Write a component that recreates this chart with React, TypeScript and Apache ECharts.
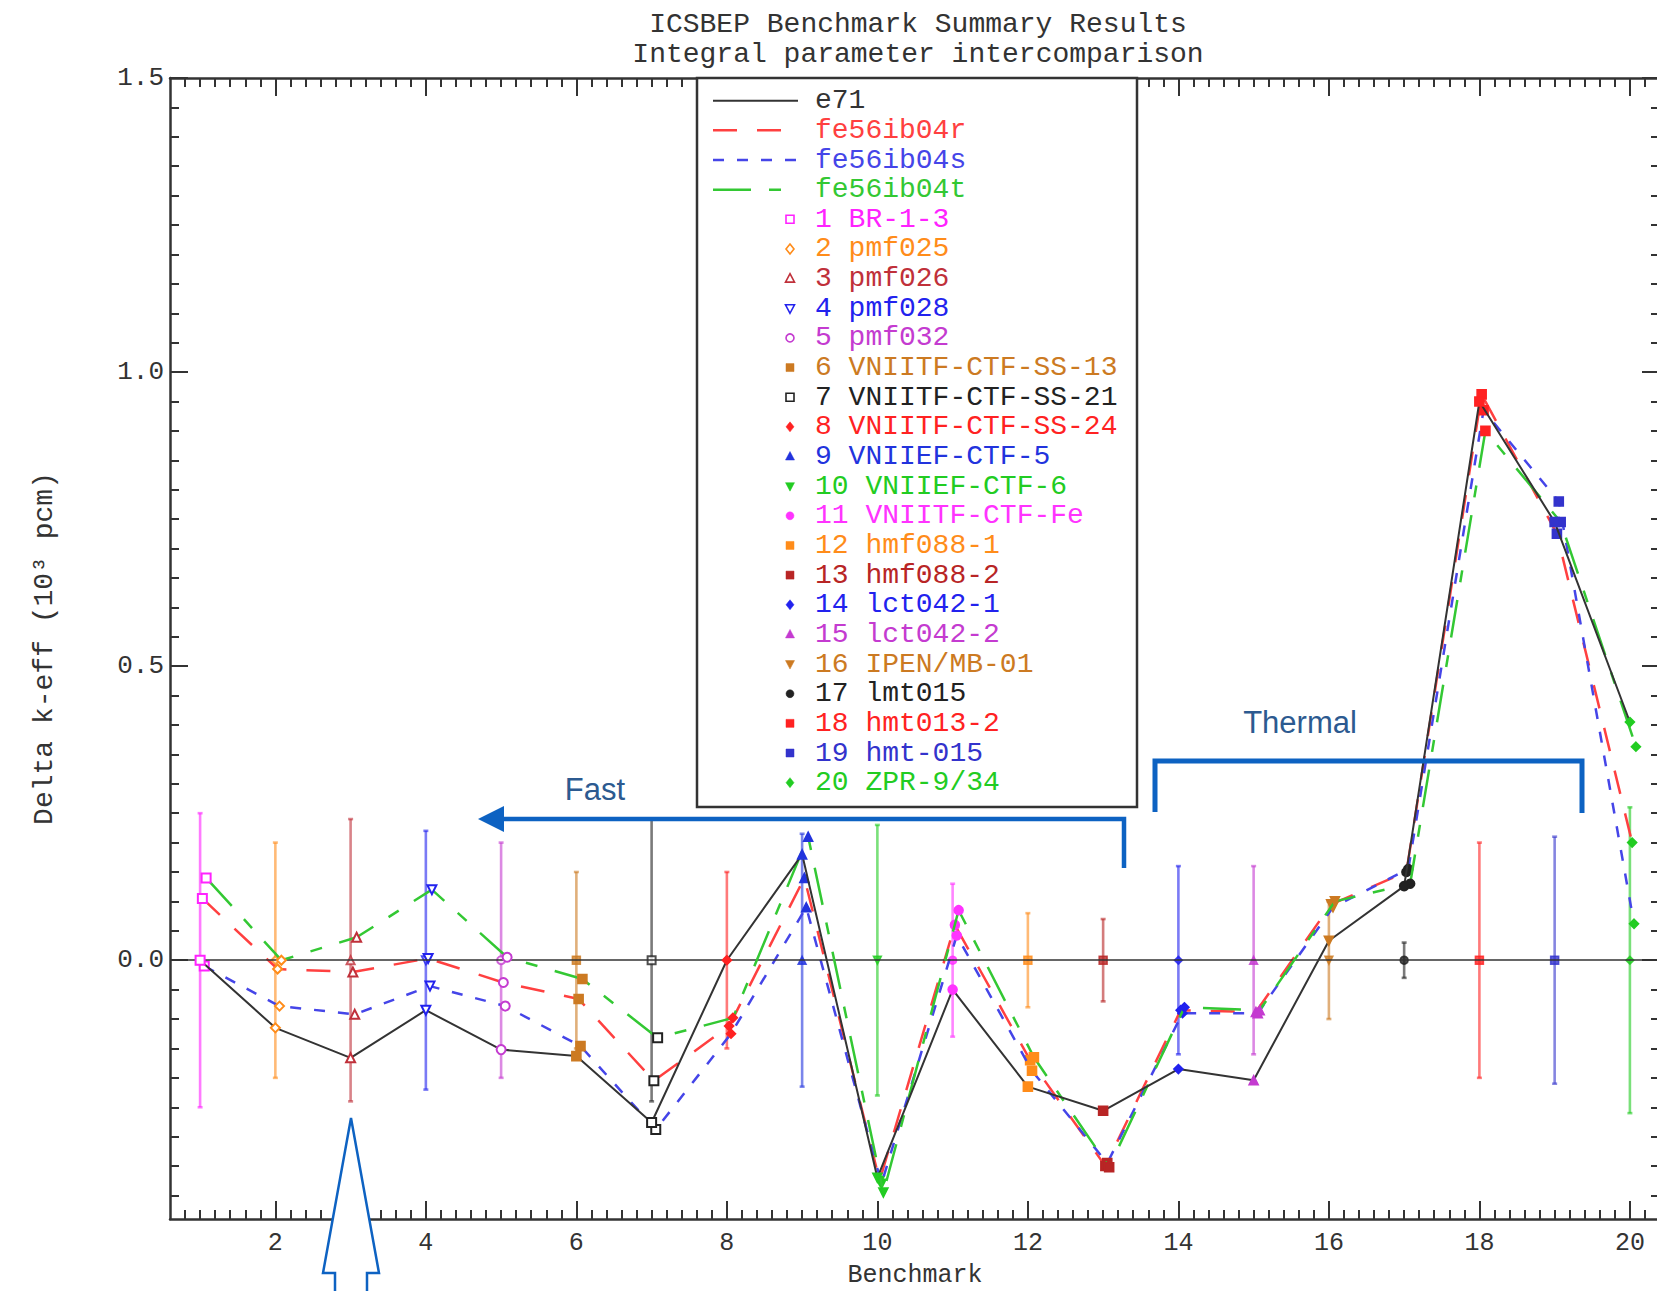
import React, { useEffect, useRef } from "react";
import * as echarts from "echarts";

// ---------------- data ----------------
const BENCHMARKS = [1, 2, 3, 4, 5, 6, 7, 8, 9, 10, 11, 12, 13, 14, 15, 16, 17, 18, 19, 20];
const BENCH_NAMES = [
  "BR-1-3", "pmf025", "pmf026", "pmf028", "pmf032",
  "VNIITF-CTF-SS-13", "VNIITF-CTF-SS-21", "VNIITF-CTF-SS-24", "VNIIEF-CTF-5", "VNIIEF-CTF-6",
  "VNIITF-CTF-Fe", "hmf088-1", "hmf088-2", "lct042-1", "lct042-2",
  "IPEN/MB-01", "lmt015", "hmt013-2", "hmt-015", "ZPR-9/34",
];
// experimental uncertainty (10^3 pcm), bars centred on 0
const BENCH_UNC = [0.25, 0.2, 0.24, 0.22, 0.2, 0.15, 0.24, 0.15, 0.215, 0.23, 0.13, 0.08, 0.07, 0.16, 0.16, 0.1, 0.03, 0.2, 0.21, 0.26];

const MODEL_NAMES = ["e71", "fe56ib04r", "fe56ib04s", "fe56ib04t"];
const E71 = [0.0, -0.115, -0.166, -0.085, -0.152, -0.163, -0.276, 0.0, 0.18, -0.37, -0.05, -0.215, -0.256, -0.185, -0.204, 0.033, 0.126, 0.95, 0.745, 0.405];
const FE56_R = [0.105, -0.015, -0.02, 0.003, -0.038, -0.066, -0.205, -0.112, 0.14, -0.375, 0.06, -0.17, -0.35, -0.085, -0.088, 0.095, 0.15, 0.962, 0.725, 0.2];
const FE56_S = [-0.01, -0.078, -0.092, -0.044, -0.078, -0.146, -0.288, -0.125, 0.09, -0.38, 0.042, -0.188, -0.345, -0.09, -0.09, 0.09, 0.155, 0.935, 0.78, 0.062];
const FE56_T = [0.14, 0.0, 0.039, 0.12, 0.005, -0.032, -0.132, -0.098, 0.21, -0.395, 0.085, -0.165, -0.352, -0.08, -0.085, 0.1, 0.13, 0.9, 0.745, 0.363];
const MODEL_VALUES = [E71, FE56_R, FE56_S, FE56_T];

const X_TICKS = [2, 4, 6, 8, 10, 12, 14, 16, 18, 20];
const Y_TICKS = [0, 0.5, 1.0, 1.5];

const TITLE_LINES = ["ICSBEP Benchmark Summary Results", "Integral parameter intercomparison"];
const X_NAME = "Benchmark";
const Y_NAME = "Delta k-eff (10³ pcm)";
const NOTE_FAST = "Fast";
const NOTE_THERMAL = "Thermal";

// ---------------- style ----------------
const BENCH_COLORS = [
  "#ff22ff", "#ff8c1a", "#c0303a", "#2222ee", "#c43bd0",
  "#cc7a22", "#222222", "#ff2222", "#2233dd", "#22cc22",
  "#ff33ff", "#ff8c1a", "#b82525", "#2222ee", "#c43bd0",
  "#cc7a22", "#222222", "#ff2222", "#3333cc", "#22cc22",
];
// [shape, empty, pointing down]
const BENCH_SYMBOLS: [string, boolean, boolean][] = [
  ["rect", true, false], ["diamond", true, false], ["triangle", true, false], ["triangle", true, true], ["circle", true, false],
  ["rect", false, false], ["rect", true, false], ["diamond", false, false], ["triangle", false, false], ["triangle", false, true],
  ["circle", false, false], ["rect", false, false], ["rect", false, false], ["diamond", false, false], ["triangle", false, false],
  ["triangle", false, true], ["circle", false, false], ["rect", false, false], ["rect", false, false], ["diamond", false, false],
];
const MODEL_STYLES = [
  { color: "#333333", width: 2, dash: "solid" as any },
  { color: "#ff4040", width: 2.5, dash: [24, 20] },
  { color: "#4545e8", width: 2.5, dash: [11, 13] },
  { color: "#33c833", width: 2.5, dash: [38, 18, 12, 18] },
];
const MODEL_X_SHIFT = [0, 0.03, 0.055, 0.08];
const MODEL_Z = [6, 3, 4, 5];

const MONO = "Liberation Mono";
const AX = "#333333";
const NOTE_BLUE = "#0d62c2";
const NOTE_TEXT = "#2c5a90";

function symbolOf(i: number) {
  const [shape, empty, down] = BENCH_SYMBOLS[i];
  return {
    symbol: (empty ? "empty" + shape.charAt(0).toUpperCase() + shape.slice(1) : shape),
    symbolRotate: down ? 180 : 0,
  };
}

function legendMarker(i: number, cx: number, cy: number) {
  const [shape, empty, down] = BENCH_SYMBOLS[i];
  const color = BENCH_COLORS[i];
  const style = empty
    ? { fill: "#ffffff", stroke: color, lineWidth: 1.6 }
    : { fill: color, stroke: color, lineWidth: 0.5 };
  const s = 4;
  if (shape === "rect") return { type: "rect", z: 101, shape: { x: cx - s, y: cy - s, width: 2 * s, height: 2 * s }, style };
  if (shape === "circle") return { type: "circle", z: 101, shape: { cx, cy, r: s }, style };
  if (shape === "diamond")
    return { type: "polygon", z: 101, shape: { points: [[cx, cy - 5], [cx + 4, cy], [cx, cy + 5], [cx - 4, cy]] }, style };
  const d = down ? -1 : 1;
  return {
    type: "polygon", z: 101,
    shape: { points: [[cx, cy - 5 * d], [cx + 4.5, cy + 3.5 * d], [cx - 4.5, cy + 3.5 * d]] },
    style,
  };
}

export default function App() {
  const ref = useRef<HTMLDivElement>(null);

  useEffect(() => {
    document.body.style.margin = "0";
    document.body.style.overflow = "hidden";
    if (!ref.current) return;
    const chart = echarts.init(ref.current, undefined, { renderer: "svg" });

    const xMinor: number[] = [];
    for (let k = 4; k <= 102; k++) xMinor.push(Math.round(k * 2) / 10);
    const yMinor: number[] = [];
    for (let k = -8; k <= 30; k++) yMinor.push(Math.round(k * 5) / 100);

    const xMin = 0.6, xMax = 20.4, yMin = -0.44, yMax = 1.5;

    const mkX = (pos: "bottom" | "top", major: boolean, labels: boolean) => ({
      type: "value",
      position: pos,
      min: xMin,
      max: xMax,
      axisLine: { show: major, onZero: false, lineStyle: { color: AX, width: 2.5 } },
      axisTick: {
        show: true, inside: true, length: major ? 18 : 9,
        customValues: major ? X_TICKS : xMinor,
        lineStyle: { color: AX, width: 2 },
      },
      axisLabel: {
        show: labels, customValues: major ? X_TICKS : xMinor,
        fontFamily: MONO, fontSize: 25, color: AX, margin: 12,
      },
      splitLine: { show: false },
      ...(labels
        ? { name: X_NAME, nameLocation: "middle", nameGap: 44, nameTextStyle: { fontFamily: MONO, fontSize: 25, color: AX } }
        : {}),
    });
    const mkY = (pos: "left" | "right", major: boolean, labels: boolean) => ({
      type: "value",
      position: pos,
      min: yMin,
      max: yMax,
      axisLine: { show: major, onZero: false, lineStyle: { color: AX, width: 2.5 } },
      axisTick: {
        show: true, inside: true, length: major ? 18 : 9,
        customValues: major ? Y_TICKS : yMinor,
        lineStyle: { color: AX, width: 2 },
      },
      axisLabel: {
        show: labels, customValues: major ? Y_TICKS : yMinor,
        fontFamily: MONO, fontSize: 26, color: AX, margin: 6,
        formatter: (v: number) => v.toFixed(1),
      },
      splitLine: { show: false },
      ...(labels
        ? { name: Y_NAME, nameLocation: "middle", nameGap: 112, nameRotate: 90, nameTextStyle: { fontFamily: MONO, fontSize: 28, color: AX } }
        : {}),
    });

    const errorSeries = {
      type: "custom",
      name: "benchmark uncertainty",
      xAxisIndex: 0,
      yAxisIndex: 0,
      z: 1,
      data: BENCHMARKS.map((b, i) => [b, BENCH_UNC[i]]),
      encode: { x: 0, y: 1 },
      renderItem: (params: any, api: any) => {
        const x = api.value(0);
        const u = api.value(1);
        const p1 = api.coord([x, u]);
        const p2 = api.coord([x, -u]);
        const style = { stroke: BENCH_COLORS[params.dataIndex], lineWidth: 2.6, opacity: 0.6 };
        const cap = 2.5;
        return {
          type: "group",
          children: [
            { type: "line", shape: { x1: p1[0], y1: p1[1], x2: p2[0], y2: p2[1] }, style },
            { type: "line", shape: { x1: p1[0] - cap, y1: p1[1], x2: p1[0] + cap, y2: p1[1] }, style },
            { type: "line", shape: { x1: p2[0] - cap, y1: p2[1], x2: p2[0] + cap, y2: p2[1] }, style },
          ],
        };
      },
    };

    const benchMarkers = {
      type: "scatter",
      name: "benchmarks",
      z: 2,
      symbolSize: 8,
      data: BENCHMARKS.map((b, i) => ({
        value: [b, 0],
        ...symbolOf(i),
        itemStyle: { color: BENCH_COLORS[i], borderColor: BENCH_COLORS[i], borderWidth: 1.5 },
      })),
    };

    const modelSeries = MODEL_NAMES.map((name, m) => ({
      type: "line",
      name,
      z: MODEL_Z[m],
      symbolSize: 9,
      showSymbol: true,
      data: MODEL_VALUES[m].map((v, i) => ({
        value: [BENCHMARKS[i] + MODEL_X_SHIFT[m], v],
        ...symbolOf(i),
        itemStyle: { color: BENCH_COLORS[i], borderColor: BENCH_COLORS[i], borderWidth: 1.6 },
      })),
      lineStyle: { color: MODEL_STYLES[m].color, width: MODEL_STYLES[m].width, type: MODEL_STYLES[m].dash },
      ...(m === 0
        ? {
            markLine: {
              silent: true,
              symbol: ["none", "none"],
              label: { show: false },
              lineStyle: { color: AX, width: 1.6, type: "solid" },
              data: [{ yAxis: 0 }],
            },
          }
        : {}),
    }));

    // ---------- legend & annotations (graphic) ----------
    const rowY = (k: number) => 100.7 + k * 29.65;
    const legendEls: any[] = [
      {
        type: "rect", z: 99,
        shape: { x: 697, y: 78, width: 440, height: 729 },
        style: { fill: "#ffffff", stroke: "#333333", lineWidth: 2.5 },
      },
    ];
    MODEL_NAMES.forEach((name, m) => {
      const st = MODEL_STYLES[m];
      legendEls.push({
        type: "line", z: 101,
        shape: { x1: 713, y1: rowY(m), x2: 798, y2: rowY(m) },
        style: { stroke: st.color, lineWidth: st.width, lineDash: st.dash === "solid" ? null : st.dash },
      });
      legendEls.push({
        type: "text", z: 101, x: 815, y: rowY(m),
        style: { text: name, fill: m === 0 ? "#333333" : st.color, fontFamily: MONO, fontSize: 28, align: "left", verticalAlign: "middle" },
      });
    });
    BENCH_NAMES.forEach((name, i) => {
      const y = rowY(4 + i);
      legendEls.push(legendMarker(i, 790, y));
      legendEls.push({
        type: "text", z: 101, x: 815, y,
        style: { text: `${BENCHMARKS[i]} ${name}`, fill: BENCH_COLORS[i], fontFamily: MONO, fontSize: 28, align: "left", verticalAlign: "middle" },
      });
    });

    const noteEls: any[] = [
      {
        type: "text", z: 100, x: 918, y: 24,
        style: { text: TITLE_LINES[0], fill: AX, fontFamily: MONO, fontSize: 28, align: "center", verticalAlign: "middle" },
      },
      {
        type: "text", z: 100, x: 918, y: 54,
        style: { text: TITLE_LINES[1], fill: AX, fontFamily: MONO, fontSize: 28, align: "center", verticalAlign: "middle" },
      },
      {
        type: "polyline", z: 110,
        shape: { points: [[500, 819], [1124, 819], [1124, 868]] },
        style: { stroke: NOTE_BLUE, lineWidth: 4.5, fill: "none", lineJoin: "miter" },
      },
      {
        type: "polygon", z: 110,
        shape: { points: [[478, 819], [504, 806], [504, 832]] },
        style: { fill: NOTE_BLUE },
      },
      {
        type: "polyline", z: 110,
        shape: { points: [[1155, 812], [1155, 761], [1582, 761], [1582, 813]] },
        style: { stroke: NOTE_BLUE, lineWidth: 5, fill: "none", lineJoin: "miter" },
      },
      {
        type: "text", z: 110, x: 595, y: 789,
        style: { text: NOTE_FAST, fill: NOTE_TEXT, fontFamily: "Liberation Sans", fontSize: 31, align: "center", verticalAlign: "middle" },
      },
      {
        type: "text", z: 110, x: 1300, y: 722,
        style: { text: NOTE_THERMAL, fill: NOTE_TEXT, fontFamily: "Liberation Sans", fontSize: 31, align: "center", verticalAlign: "middle" },
      },
      {
        type: "polygon", z: 110,
        shape: { points: [[351, 1118], [379, 1273], [367, 1273], [367, 1300], [335, 1300], [335, 1273], [323, 1273]] },
        style: { fill: "#ffffff", stroke: NOTE_BLUE, lineWidth: 2.5 },
      },
    ];

    chart.setOption({
      animation: false,
      backgroundColor: "#ffffff",
      grid: { left: 170, right: -3, top: 78, bottom: 72, containLabel: false, outerBoundsMode: "none" },
      xAxis: [mkX("bottom", true, true), mkX("bottom", false, false), mkX("top", true, false), mkX("top", false, false)],
      yAxis: [mkY("left", true, true), mkY("left", false, false), mkY("right", true, false), mkY("right", false, false)],
      series: [errorSeries, benchMarkers, ...modelSeries],
      graphic: { elements: [...legendEls, ...noteEls] },
    });

    return () => chart.dispose();
  }, []);

  return <div ref={ref} style={{ width: 1657, height: 1291 }} />;
}
